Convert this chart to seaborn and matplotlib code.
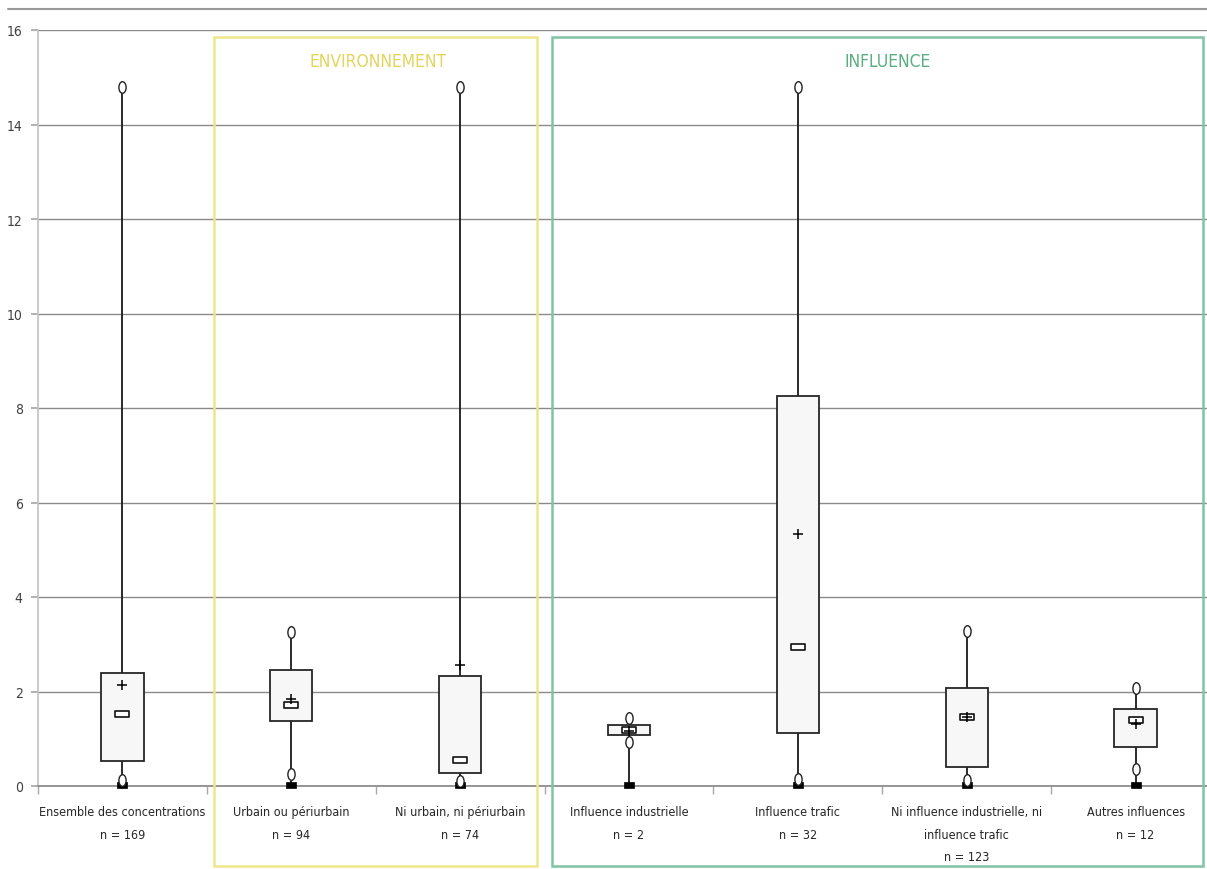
import numpy as np
import matplotlib
matplotlib.use("Agg")
import matplotlib.pyplot as plt
from matplotlib.path import Path
from matplotlib.transforms import Affine2D
from matplotlib.patches import Rectangle
from matplotlib.lines import Line2D
import seaborn as sns

# --- Data ---
CATEGORIES = [
    "Ensemble des concentrations",
    "Urbain ou périurbain",
    "Ni urbain, ni périurbain",
    "Influence industrielle",
    "Influence trafic",
    "Ni influence industrielle, ni\ninfluence trafic",
    "Autres influences",
]
N_COUNTS = [169, 94, 74, 2, 32, 123, 12]
MINIMUM = [0.02, 0.02, 0.02, 0.02, 0.02, 0.02, 0.02]
LOW_MARK = [0.12, 0.25, 0.10, 0.93, 0.14, 0.13, 0.35]
Q1 = [0.53, 1.38, 0.28, 1.07, 1.12, 0.40, 0.83]
MEDIAN = [1.52, 1.71, 0.55, 1.19, 2.95, 1.45, 1.40]
MEAN = [2.14, 1.84, 2.57, 1.17, 5.33, 1.47, 1.31]
Q3 = [2.39, 2.45, 2.33, 1.29, 8.25, 2.08, 1.63]
MAXIMUM = [14.8, 3.26, 14.8, 1.43, 14.8, 3.27, 2.08]

W, H = 1207, 870

sns.set_theme(style="white")
plt.rcParams["font.family"] = ["DejaVu Sans"]
plt.rcParams["font.stretch"] = "condensed"

fig = plt.figure(figsize=(W / 100, H / 100), dpi=100)
ax = fig.add_axes([38 / W, 83 / H, (1220 - 38) / W, 756 / H])

# marker shapes
ellipse = Path.unit_circle().transformed(Affine2D().scale(0.62, 1.0))
flat_rect = Path([(-1.4, -0.5), (1.4, -0.5), (1.4, 0.5), (-1.4, 0.5), (-1.4, -0.5)],
                 [Path.MOVETO, Path.LINETO, Path.LINETO, Path.LINETO, Path.CLOSEPOLY])
plus = Path([(-1, 0), (1, 0), (0, -1), (0, 1)],
            [Path.MOVETO, Path.LINETO, Path.MOVETO, Path.LINETO])
min_bar = Path([(-1, -0.55), (1, -0.55), (1, 0.55), (-1, 0.55), (-1, -0.55)],
               [Path.MOVETO, Path.LINETO, Path.LINETO, Path.LINETO, Path.CLOSEPOLY])

# boxes and whiskers
ax.bar(CATEGORIES, np.subtract(Q3, Q1), bottom=Q1, width=0.25,
       color="#f7f7f7", edgecolor="#262626", linewidth=1.3, zorder=2)
ax.vlines(CATEGORIES, MINIMUM, MAXIMUM, color="#1a1a1a", linewidth=1.3, zorder=1.5)

# markers
sns.scatterplot(x=CATEGORIES, y=MINIMUM, marker=min_bar, s=45, color="black",
                edgecolor="black", linewidth=0.5, zorder=4, clip_on=False, ax=ax)
sns.scatterplot(x=CATEGORIES, y=MAXIMUM, marker=ellipse, s=70, color="white",
                edgecolor="#222222", linewidth=1.0, zorder=4, ax=ax)
sns.scatterplot(x=CATEGORIES, y=LOW_MARK, marker=ellipse, s=70, color="white",
                edgecolor="#222222", linewidth=1.0, zorder=4, ax=ax)
sns.scatterplot(x=CATEGORIES, y=MEDIAN, marker=flat_rect, s=110, color="white",
                edgecolor="#111111", linewidth=1.2, zorder=5, ax=ax)
sns.scatterplot(x=CATEGORIES, y=MEAN, marker=plus, s=60, color="black",
                edgecolor="black", linewidth=1.1, zorder=6, ax=ax)

# axes styling
ax.set_xlim(-0.5, len(CATEGORIES) - 0.5)
ax.set_ylim(0, 16)
ax.set_yticks(range(0, 17, 2))
ax.yaxis.grid(True, color="#8a8a8a", linewidth=1)
ax.set_axisbelow(True)
for side in ["top", "right"]:
    ax.spines[side].set_visible(False)
ax.spines["left"].set_color("#c4c4c4")
ax.spines["bottom"].set_color("#8a8a8a")
ax.tick_params(axis="y", direction="out", length=5, color="#a8a8a8",
               labelcolor="#404040", labelsize=10, pad=6, left=True)
ax.set_xticks(range(len(CATEGORIES)),
              [f"{c}\nn = {n}" for c, n in zip(CATEGORIES, N_COUNTS)])
ax.set_xticks(np.arange(-0.5, len(CATEGORIES)), minor=True)
ax.tick_params(axis="x", which="major", length=0, pad=14, labelsize=9, labelcolor="#262626")
ax.tick_params(axis="x", which="minor", direction="out", length=6, color="#a8a8a8", bottom=True)
for lbl in ax.get_xticklabels():
    lbl.set_linespacing(1.95)
ax.set_xlabel("")
ax.set_ylabel("")


def px_rect(x0, y0, x1, y1, color):
    return Rectangle((x0 / W, 1 - y1 / H), (x1 - x0) / W, (y1 - y0) / H,
                     transform=fig.transFigure, fill=False, edgecolor=color, linewidth=1.8)


fig.add_artist(Line2D([8 / W, 1], [1 - 10 / H, 1 - 10 / H], transform=fig.transFigure,
                      color="#9a9a9a", linewidth=1.5))
fig.add_artist(px_rect(214, 38, 537, 867, "#efe68a"))
fig.add_artist(px_rect(552, 38, 1203, 867, "#80c4a4"))
fig.text(378 / W, 1 - 62 / H, "ENVIRONNEMENT", ha="center", va="center",
         fontsize=12.5, color="#e3d45c")
fig.text(888 / W, 1 - 62 / H, "INFLUENCE", ha="center", va="center",
         fontsize=12.5, color="#5aae80")

fig.savefig("out.png", dpi=100)
